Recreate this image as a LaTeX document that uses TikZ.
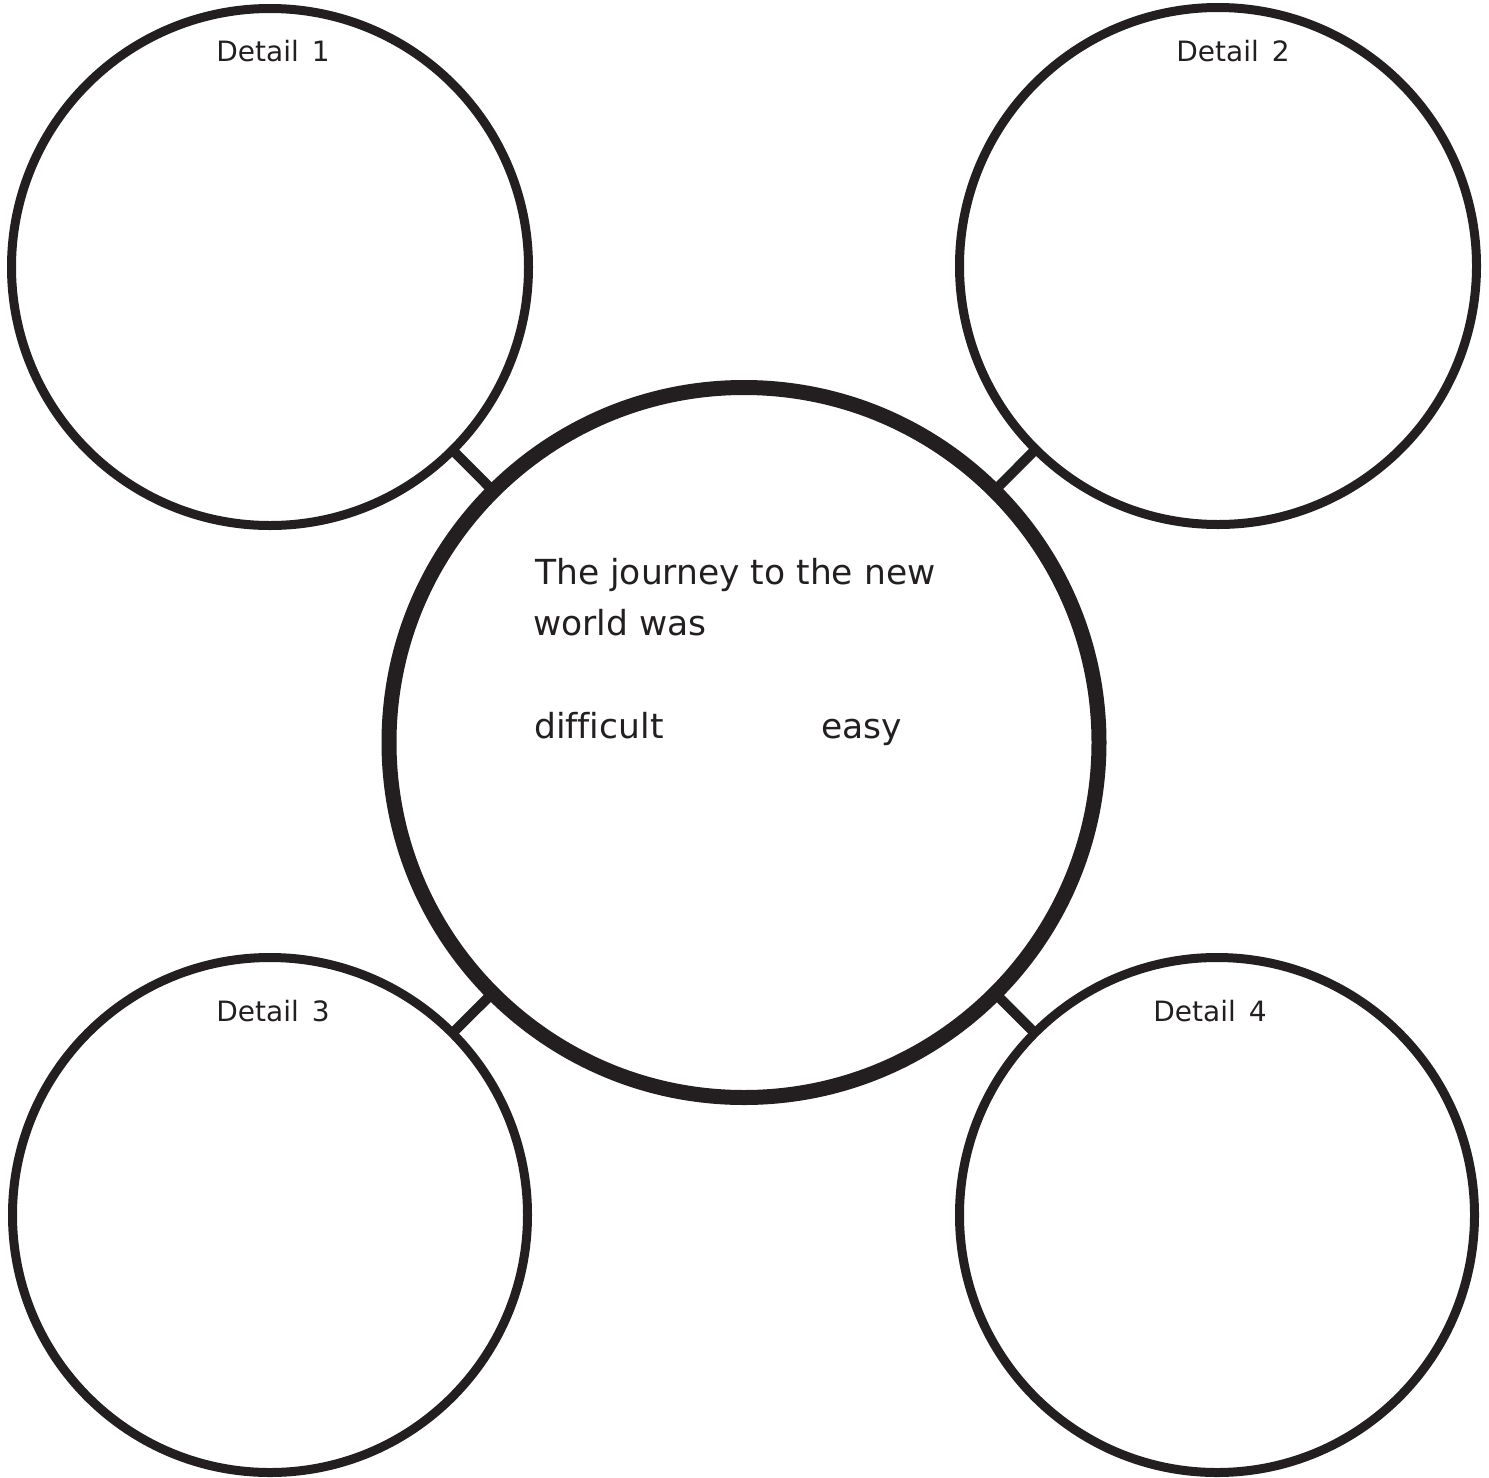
\documentclass[tikz,border=0pt]{standalone}
\usepackage{fontspec}
\setmainfont[Ligatures={NoCommon}]{DejaVu Sans}
\definecolor{ink}{HTML}{231F20}
\begin{document}
\begin{tikzpicture}[x=1pt,y=-1pt,
  detailcircle/.style={circle,draw=ink,line width=9pt,minimum size=#1,inner sep=0pt,outer sep=0pt},
  maincircle/.style={circle,draw=ink,line width=15pt,minimum size=710pt,inner sep=0pt,outer sep=0pt},
  link/.style={draw=ink,line width=10pt},
  detaillabel/.style={anchor=base,text=ink,font=\fontsize{28}{32}\selectfont,inner sep=0pt},
  maintext/.style={anchor=base west,text=ink,font=\fontsize{34.5}{40}\selectfont,inner sep=0pt}]
\useasboundingbox (0,0) rectangle (1489,1478);
\node[detailcircle=517pt] (d1) at (270,267) {};
\node[detailcircle=517pt] (d2) at (1218,266) {};
\node[detailcircle=515pt] (d3) at (270,1215) {};
\node[detailcircle=515pt] (d4) at (1217,1215) {};
\node[maincircle] (c) at (744,742.5) {};
\draw[link] (d1) -- (c);
\draw[link] (d2) -- (c);
\draw[link] (d3) -- (c);
\draw[link] (d4) -- (c);
\node[detaillabel] (t1) at (273,61) {Detail\hspace{4pt} 1};
\node[detaillabel] (t2) at (1233,61) {Detail\hspace{4pt} 2};
\node[detaillabel] (t3) at (273,1021) {Detail\hspace{4pt} 3};
\node[detaillabel] (t4) at (1210,1021) {Detail\hspace{4pt} 4};
\node[maintext] (m1) at (535,584) {The journey to the new};
\node[maintext] (m2) at (533,635) {world was};
\node[maintext] (m3) at (534,738) {difficult};
\node[maintext] (m4) at (821,738) {easy};
\end{tikzpicture}
\end{document}
